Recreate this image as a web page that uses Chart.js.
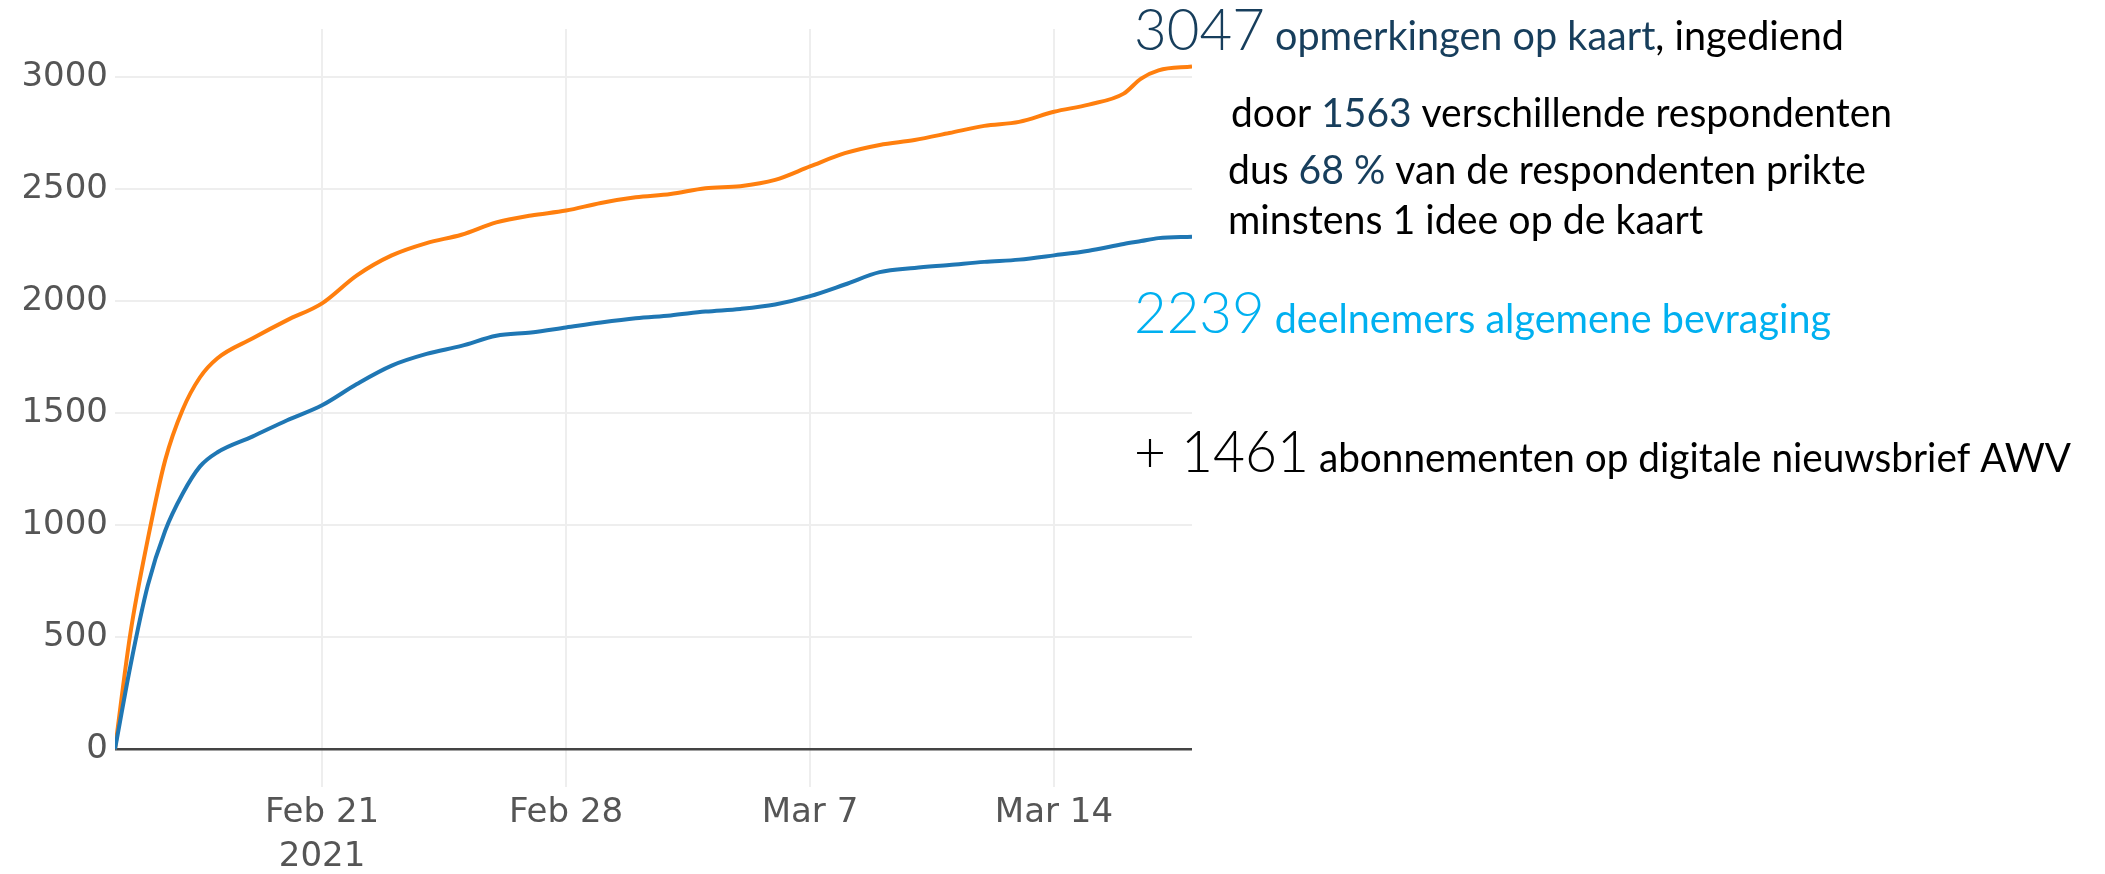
<!DOCTYPE html>
<html>
<head>
<meta charset="utf-8">
<title>Deelname bevraging</title>
<script src="https://cdn.jsdelivr.net/npm/chart.js@4.4.0/dist/chart.umd.min.js"></script>
<style>
  html, body { margin: 0; padding: 0; background: #fff; }
  #chart { display: block; }
</style>
</head>
<body>
<canvas id="chart" width="2105" height="874"></canvas>
<script>
// Days since Feb 15 2021 (x axis runs from first to last point)
const days = [0.06, 0.5, 1, 1.5, 2, 2.5, 3, 4, 5, 6, 7, 8, 9, 10, 11, 12, 13, 14, 15, 16,
              17, 18, 19, 20, 21, 22, 23, 24, 25, 26, 27, 28, 29, 29.5, 30, 30.96];

// Orange: cumulative remarks on the map
const opmerkingen = [0, 515, 936, 1290, 1515, 1660, 1745, 1833, 1915, 1990, 2115, 2204, 2259, 2296, 2351, 2382,
                     2404, 2438, 2463, 2478, 2504, 2513, 2541, 2601, 2660, 2697, 2719, 2750, 2782, 2800,
                     2845, 2877, 2926, 2993, 3030, 3047];

// Blue: cumulative participants
const deelnemers = [0, 370, 730, 975, 1140, 1262, 1325, 1395, 1468, 1535, 1630, 1712, 1764, 1800, 1845, 1860,
                    1882, 1904, 1923, 1936, 1953, 1965, 1985, 2022, 2074, 2129, 2148, 2161, 2175, 2185,
                    2204, 2225, 2255, 2268, 2281, 2287];

const tickDays = [6, 13, 20, 27];
const tickLabels = [['Feb 21', '2021'], 'Feb 28', 'Mar 7', 'Mar 14'];
const yTicks = [0, 500, 1000, 1500, 2000, 2500, 3000];

//Text blocks on the right
const navy = '#173e5c';
const sky = '#00b0f0';
const ink = '#000';
const notes = [
    { x: 1134, y: 50, right: 1844, parts: [['3047', 57, navy], [' opmerkingen op kaart', 40, navy], [', ingediend', 40, ink]] },
    { x: 1231, y: 127, right: 1892, parts: [['door ', 40, ink], ['1563', 40, navy], [' verschillende respondenten', 40, ink]] },
    { x: 1228, y: 184, right: 1866, parts: [['dus ', 40, ink], ['68 %', 40, navy], [' van de respondenten prikte', 40, ink]] },
    { x: 1228, y: 234, right: 1703, parts: [['minstens 1 idee op de kaart', 40, ink]] },
    { x: 1134, y: 333, right: 1831, parts: [['2239', 57, sky], [' deelnemers algemene bevraging', 40, sky]] },
    { x: 1134, y: 472, right: 2071, parts: [['+ 1461', 57, ink], [' abonnementen op digitale nieuwsbrief AWV', 40, ink]] }
];

function textFont(size) {
    //Big numbers light, body text regular
    var weight = size > 50 ? '300' : '400';
    return weight + ' ' + size + 'px Lato, "Open Sans", sans-serif';
}

const notesPlugin = {
    id: 'notes',
    afterDraw(chart) {
        const ctx = chart.ctx;
        ctx.save();
        ctx.textBaseline = 'alphabetic';
        ctx.textAlign = 'left';
        notes.forEach(function(line) {
            //Natural width first, then squeeze to the width of the original
            var total = 0;
            line.parts.forEach(function(p) {
                ctx.font = textFont(p[1]);
                total += ctx.measureText(p[0]).width;
            });
            const sx = (line.right - line.x) / total;
            ctx.save();
            ctx.translate(line.x, line.y);
            ctx.scale(sx, 1);
            var cx = 0;
            line.parts.forEach(function(p) {
                ctx.font = textFont(p[1]);
                ctx.fillStyle = p[2];
                ctx.fillText(p[0], cx, 0);
                cx += ctx.measureText(p[0]).width;
            });
            ctx.restore();
        });
        ctx.restore();
    }
};

const tickFont = { family: '"DejaVu Sans", Verdana, sans-serif', size: 34, lineHeight: 1.3 };

new Chart(document.getElementById('chart'), {
    type: 'line',
    data: {
        datasets: [
            {
                label: 'deelnemers',
                data: days.map((d, i) => ({ x: d, y: deelnemers[i] })),
                borderColor: '#1f77b4'
            },
            {
                label: 'opmerkingen',
                data: days.map((d, i) => ({ x: d, y: opmerkingen[i] })),
                borderColor: '#ff7f0e'
            }
        ]
    },
    options: {
        responsive: false,
        animation: false,
        layout: { padding: { left: 0, top: 27, right: 913, bottom: 0 } },
        plugins: { legend: { display: false }, tooltip: { enabled: false } },
        elements: {
            point: { radius: 0 },
            line: { borderWidth: 4, cubicInterpolationMode: 'monotone', fill: false }
        },
        scales: {
            x: {
                type: 'linear',
                min: days[0],
                max: days[days.length - 1],
                afterBuildTicks: function(scale) {
                    scale.ticks = tickDays.map(v => ({ value: v }));
                },
                afterFit: function(scale) { scale.height = 87; },
                grid: { color: '#eee', lineWidth: 2, drawTicks: false },
                border: { display: false },
                ticks: {
                    font: tickFont,
                    color: '#555',
                    padding: 4,
                    maxRotation: 0,
                    autoSkip: false,
                    callback: function(value, index) { return tickLabels[index]; }
                }
            },
            y: {
                min: -169,
                max: 3214,
                afterBuildTicks: function(scale) {
                    scale.ticks = yTicks.map(v => ({ value: v }));
                },
                afterFit: function(scale) { scale.width = 115; },
                grid: {
                    color: c => (c.tick && c.tick.value === 0) ? '#444' : '#eee',
                    lineWidth: c => (c.tick && c.tick.value === 0) ? 2.5 : 2,
                    drawTicks: false
                },
                border: { display: false },
                ticks: {
                    font: tickFont,
                    color: '#555',
                    padding: 7,
                    callback: function(value) { return String(value); }
                }
            }
        }
    },
    plugins: [notesPlugin]
});
</script>
</body>
</html>
